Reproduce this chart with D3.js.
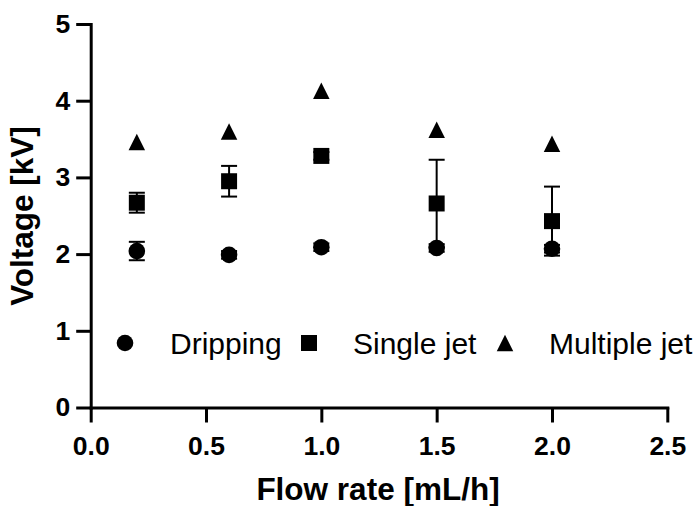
<!DOCTYPE html>
<html>
<head>
    <meta charset="utf-8">
    <style>
        body {
            margin: 0;
            background-color: #fff;
        }
        svg {
            background-color: #fff;
            display: block;
        }
        text {
            font-family: Arial, "Liberation Sans", sans-serif;
            fill: #000;
        }
    </style>
    <script src="https://d3js.org/d3.v7.min.js"></script>
</head>
<body>

<div id="chart"></div>

<script>
    // flow rate [mL/h]
    var flowRates = [0.2, 0.6, 1.0, 1.5, 2.0];

    // voltage [kV]
    var dripping     = [2.04, 1.99, 2.09, 2.08, 2.07];
    var drippingErr  = [0.12, 0.05, 0.05, 0.05, 0.05];
    var singleJet    = [2.67, 2.95, 3.28, 2.66, 2.43];
    var singleJetErr = [0.13, 0.20, 0.05, 0.57, 0.45];
    var multiJet     = [3.46, 3.60, 4.13, 3.62, 3.44];
    var multiJetErr  = [0, 0, 0, 0, 0];

    var xTicks = [0.0, 0.5, 1.0, 1.5, 2.0, 2.5];
    var yTicks = [0, 1, 2, 3, 4, 5];
    var seriesNames = ["Dripping", "Single jet", "Multiple jet"];

    var width = 697, height = 506;

    var x = d3.scaleLinear().domain([0, 2.5]).range([90.7, 667.3]);
    var y = d3.scaleLinear().domain([0, 5]).range([407.5, 24]);

    var svg = d3.select("#chart").append("svg")
        .attr("width", width)
        .attr("height", height);

    // triangle with equal width and height, centred on its box
    var triangleBox = {
        draw: function (context, size) {
            var h = Math.sqrt(size) / 2;
            context.moveTo(0, -h);
            context.lineTo(h, h);
            context.lineTo(-h, h);
            context.closePath();
        }
    };

    var series = [
        { name: seriesNames[0], values: dripping, err: drippingErr, type: d3.symbolCircle, size: Math.PI * 8.3 * 8.3 },
        { name: seriesNames[1], values: singleJet, err: singleJetErr, type: d3.symbolSquare, size: 16 * 16 },
        { name: seriesNames[2], values: multiJet, err: multiJetErr, type: triangleBox, size: 16.5 * 16.5 }
    ];

    // axes
    var xAxis = d3.axisBottom(x)
        .tickValues(xTicks)
        .tickFormat(d3.format(".1f"))
        .tickSizeInner(15)
        .tickSizeOuter(0)
        .tickPadding(14);

    var yAxis = d3.axisLeft(y)
        .tickValues(yTicks)
        .tickFormat(d3.format("d"))
        .tickSizeInner(14.5)
        .tickSizeOuter(0)
        .tickPadding(6);

    var gx = svg.append("g")
        .attr("transform", "translate(0," + y(0) + ")")
        .call(xAxis);

    var gy = svg.append("g")
        .attr("transform", "translate(" + x(0) + ",0)")
        .call(yAxis);

    [gx, gy].forEach(function (g) {
        g.select(".domain").attr("stroke", "#000").attr("stroke-width", 3).attr("stroke-linecap", "square");
        g.selectAll(".tick line").attr("stroke", "#000").attr("stroke-width", 3);
        g.selectAll(".tick text")
            .attr("fill", "#000")
            .style("font-family", "Arial, 'Liberation Sans', sans-serif")
            .style("font-size", "26.5px")
            .style("font-weight", "bold");
    });

    // axis titles
    svg.append("text")
        .attr("x", 378)
        .attr("y", 500)
        .attr("text-anchor", "middle")
        .style("font-size", "31.5px")
        .style("font-weight", "bold")
        .text("Flow rate [mL/h]");

    svg.append("text")
        .attr("transform", "translate(33,216) rotate(-90)")
        .attr("text-anchor", "middle")
        .style("font-size", "31.5px")
        .style("font-weight", "bold")
        .text("Voltage [kV]");

    // error bars first, markers on top
    var errG = svg.append("g");
    series.forEach(function (s) {
        s.values.forEach(function (v, i) {
            var e = s.err[i];
            if (!e) return;
            var cx = x(flowRates[i]);
            errG.append("line")
                .attr("x1", cx).attr("x2", cx)
                .attr("y1", y(v - e)).attr("y2", y(v + e))
                .attr("stroke", "#000").attr("stroke-width", 2);
            [v - e, v + e].forEach(function (t) {
                errG.append("line")
                    .attr("x1", cx - 8).attr("x2", cx + 8)
                    .attr("y1", y(t)).attr("y2", y(t))
                    .attr("stroke", "#000").attr("stroke-width", 2);
            });
        });
    });

    var markG = svg.append("g");
    series.forEach(function (s) {
        markG.selectAll(null)
            .data(s.values)
            .enter()
            .append("path")
            .attr("d", d3.symbol().type(s.type).size(s.size))
            .attr("transform", function (d, i) { return "translate(" + x(flowRates[i]) + "," + y(d) + ")"; })
            .attr("fill", "#000");
    });

    // legend
    var legendSymX = [125, 309, 505];
    var legendTextX = [170, 353, 549];
    var legendY = 343;
    var legend = svg.append("g");
    series.forEach(function (s, i) {
        legend.append("path")
            .attr("d", d3.symbol().type(s.type).size(s.size))
            .attr("transform", "translate(" + legendSymX[i] + "," + legendY + ")")
            .attr("fill", "#000");
        legend.append("text")
            .attr("x", legendTextX[i])
            .attr("y", legendY + 10.5)
            .style("font-size", "30px")
            .text(s.name);
    });
</script>

</body>
</html>
